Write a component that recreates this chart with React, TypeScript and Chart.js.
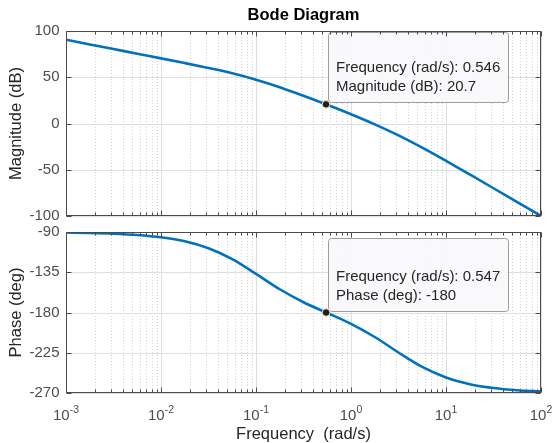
import React, { useEffect, useRef } from 'react';
import { Chart, registerables } from 'chart.js';

Chart.register(...registerables);

// ---------------- data ----------------
const frequencies = [
  0.001, 0.001778, 0.003162, 0.005623, 0.01, 0.01778, 0.03162, 0.05623, 0.1, 0.1778, 0.3162,
  0.5623, 1, 1.778, 3.162, 5.623, 10, 17.78, 31.62, 56.23, 100,
];
const magnitudeDb = [
  90.5, 85.5, 80.5, 75.4, 70.4, 65.3, 60.0, 54.3, 47.4, 39.3, 30.0, 20.2, 10.0, -0.9, -12.8,
  -26.1, -40.4, -55.1, -70.0, -85.0, -100.0,
];
const phaseDeg = [
  -90.6, -91.1, -91.9, -93.3, -95.9, -100.4, -108.2, -120.4, -136.9, -154.0, -168.5, -180.5,
  -192.7, -207.4, -224.7, -240.9, -252.7, -260.1, -264.4, -266.9, -268.2,
];
const magnitudeTicks = [-100, -50, 0, 50, 100];
const phaseTicks = [-270, -225, -180, -135, -90];
const decadeExponents = [-3, -2, -1, 0, 1, 2];
const minorMultipliers = [2, 3, 4, 5, 6, 7, 8, 9];
const magnitudeTip = [0.546, 20.7];
const phaseTip = [0.547, -180];

// ---------------- styling ----------------
const FONT = '"Liberation Sans", Arial, Helvetica, sans-serif';
const LINE_BLUE = '#0072BD';
const TEXT_DARK = '#262626';
const TICK_GREY = '#4d4d4d';
const FRAME = '#4a4a4a';
const W = 553;
const TOP_H = 224;
const BOT_H = 219;
const PLOT_LEFT = 66;
const PLOT_RIGHT_PAD = 12;

function zeroPadding(s: any) {
  s.paddingTop = 0;
  s.paddingBottom = 0;
  s.paddingLeft = 0;
  s.paddingRight = 0;
}

function drawGridAndTip(chart: any, yTicks: number[], tip: number[], tipLabel: string, tipH: number) {
  const { ctx, chartArea: a, scales } = chart;
  const x = scales.x;
  const y = scales.y;
  ctx.save();
  ctx.lineWidth = 1;
  // minor vertical dotted grid
  ctx.strokeStyle = '#d2d2d2';
  ctx.setLineDash([1, 2]);
  for (const e of decadeExponents.slice(0, -1)) {
    for (const m of minorMultipliers) {
      const px = Math.round(x.getPixelForValue(m * Math.pow(10, e))) + 0.5;
      ctx.beginPath();
      ctx.moveTo(px, a.top);
      ctx.lineTo(px, a.bottom);
      ctx.stroke();
    }
  }
  ctx.setLineDash([]);
  ctx.strokeStyle = '#dfdfdf';
  for (const e of decadeExponents) {
    const px = Math.round(x.getPixelForValue(Math.pow(10, e))) + 0.5;
    ctx.beginPath();
    ctx.moveTo(px, a.top);
    ctx.lineTo(px, a.bottom);
    ctx.stroke();
  }
  for (const v of yTicks) {
    const py = Math.round(y.getPixelForValue(v)) + 0.5;
    ctx.beginPath();
    ctx.moveTo(a.left, py);
    ctx.lineTo(a.right, py);
    ctx.stroke();
  }

  // data tip box
  const px = x.getPixelForValue(tip[0]);
  const py = y.getPixelForValue(tip[1]);
  const left = Math.round(px + 2) + 0.5;
  const bottom = Math.round(py - 2) + 0.5;
  const w = 180;
  ctx.beginPath();
  if (ctx.roundRect) ctx.roundRect(left, bottom - tipH, w, tipH, 3);
  else ctx.rect(left, bottom - tipH, w, tipH);
  ctx.fillStyle = 'rgba(249,249,252,0.95)';
  ctx.fill();
  ctx.strokeStyle = '#9c9c9c';
  ctx.stroke();
  ctx.fillStyle = TEXT_DARK;
  ctx.font = `15px ${FONT}`;
  ctx.textAlign = 'left';
  ctx.textBaseline = 'middle';
  ctx.fillText(`Frequency (rad/s): ${tip[0]}`, left + 7.5, bottom - 34.5);
  ctx.fillText(`${tipLabel}: ${tip[1]}`, left + 7.5, bottom - 15.5);
  ctx.restore();
}

function drawFrame(chart: any, yTicks: number[]) {
  const { ctx, chartArea: a, scales } = chart;
  const x = scales.x;
  const y = scales.y;
  ctx.save();
  ctx.strokeStyle = FRAME;
  ctx.lineWidth = 1;
  const L = a.left + 0.5;
  const R = a.right - 0.5;
  const T = a.top + 0.5;
  const B = a.bottom - 0.5;
  ctx.strokeRect(L, T, R - L, B - T);
  ctx.beginPath();
  for (const e of decadeExponents) {
    const px = Math.round(x.getPixelForValue(Math.pow(10, e))) + 0.5;
    ctx.moveTo(px, T); ctx.lineTo(px, T + 5);
    ctx.moveTo(px, B); ctx.lineTo(px, B - 5);
    if (e === decadeExponents[decadeExponents.length - 1]) continue;
    for (const m of minorMultipliers) {
      const qx = Math.round(x.getPixelForValue(m * Math.pow(10, e))) + 0.5;
      ctx.moveTo(qx, T); ctx.lineTo(qx, T + 3);
      ctx.moveTo(qx, B); ctx.lineTo(qx, B - 3);
    }
  }
  for (const v of yTicks) {
    const py = Math.round(y.getPixelForValue(v)) + 0.5;
    ctx.moveTo(L, py); ctx.lineTo(L + 5, py);
    ctx.moveTo(R, py); ctx.lineTo(R - 5, py);
  }
  ctx.stroke();
  ctx.restore();
}

function buildConfig(isTop: boolean): any {
  const values = isTop ? magnitudeDb : phaseDeg;
  const yTicks = isTop ? magnitudeTicks : phaseTicks;
  const tip = isTop ? magnitudeTip : phaseTip;
  const yLabel = isTop ? 'Magnitude (dB)' : 'Phase (deg)';
  const tipLabel = isTop ? 'Magnitude (dB)' : 'Phase (deg)';
  const tipH = isTop ? 70 : 73;

  const plugin = {
    id: isTop ? 'bodeTop' : 'bodeBottom',
    beforeDatasetsDraw(chart: any) {
      drawGridAndTip(chart, yTicks, tip, tipLabel, tipH);
    },
    afterDatasetsDraw(chart: any) {
      drawFrame(chart, yTicks);
    },
    afterDraw(chart: any) {
      const { ctx, chartArea: a, scales } = chart;
      ctx.save();
      if (isTop) {
        ctx.fillStyle = '#000000';
        ctx.font = `bold 16.5px ${FONT}`;
        ctx.textAlign = 'center';
        ctx.textBaseline = 'alphabetic';
        ctx.fillText('Bode Diagram', (a.left + a.right) / 2, 20);
      } else {
        const x = scales.x;
        ctx.fillStyle = TICK_GREY;
        ctx.textBaseline = 'alphabetic';
        ctx.textAlign = 'left';
        for (const e of decadeExponents) {
          const px = x.getPixelForValue(Math.pow(10, e));
          ctx.font = `15px ${FONT}`;
          const wb = ctx.measureText('10').width;
          ctx.font = `10.5px ${FONT}`;
          const exp = String(e);
          const we = ctx.measureText(exp).width;
          const start = px - (wb + we) / 2;
          ctx.font = `15px ${FONT}`;
          ctx.fillText('10', start, a.bottom + 27);
          ctx.font = `10.5px ${FONT}`;
          ctx.fillText(exp, start + wb, a.bottom + 20);
        }
      }
      ctx.restore();
    },
  };

  return {
    type: 'line',
    data: {
      datasets: [
        {
          data: [{ x: tip[0], y: tip[1] }],
          showLine: false,
          pointRadius: 3.8,
          pointBackgroundColor: '#1e1e1e',
          pointBorderColor: '#f3f0b4',
          pointBorderWidth: 1,
        },
        {
          data: frequencies.map((f, i) => ({ x: f, y: values[i] })),
          borderColor: LINE_BLUE,
          borderWidth: 2.6,
          pointRadius: 0,
          cubicInterpolationMode: 'monotone',
          fill: false,
        },
      ],
    },
    options: {
      animation: false,
      responsive: false,
      events: [],
      layout: {
        padding: { top: isTop ? 31 : 8, right: PLOT_RIGHT_PAD, left: 0, bottom: 0 },
      },
      plugins: {
        legend: { display: false },
        tooltip: { enabled: false },
        title: { display: false },
      },
      scales: {
        x: {
          type: 'logarithmic',
          min: 0.001,
          max: 100,
          ticks: { display: false },
          grid: { display: false, drawTicks: false },
          border: { display: false },
          title: isTop
            ? { display: false }
            : {
                display: true,
                text: 'Frequency  (rad/s)',
                color: TEXT_DARK,
                font: { family: FONT, size: 16.5, lineHeight: 1 },
                padding: { top: 0, bottom: 0 },
              },
          afterFit: (s: any) => {
            s.height = isTop ? 8 : 50;
            zeroPadding(s);
          },
        },
        y: {
          min: isTop ? -100 : -270,
          max: isTop ? 100 : -90,
          afterBuildTicks: (s: any) => {
            s.ticks = yTicks.map((v) => ({ value: v }));
          },
          ticks: {
            color: TICK_GREY,
            font: { family: FONT, size: 15 },
            padding: 6.5,
            callback: (v: any) => String(v),
          },
          grid: { display: false, drawTicks: false },
          border: { display: false },
          title: {
            display: true,
            text: yLabel,
            color: TEXT_DARK,
            font: { family: FONT, size: 16.5, lineHeight: 1 },
            padding: { top: 8.5, bottom: 0 },
          },
          afterFit: (s: any) => {
            s.width = PLOT_LEFT;
            zeroPadding(s);
          },
        },
      },
    },
    plugins: [plugin],
  };
}

export default function App() {
  const topRef = useRef<HTMLCanvasElement | null>(null);
  const botRef = useRef<HTMLCanvasElement | null>(null);

  useEffect(() => {
    const charts: Chart[] = [];
    if (topRef.current) charts.push(new Chart(topRef.current, buildConfig(true)));
    if (botRef.current) charts.push(new Chart(botRef.current, buildConfig(false)));
    return () => charts.forEach((c) => c.destroy());
  }, []);

  return (
    <div style={{ position: 'absolute', left: 0, top: 0, width: W, height: TOP_H + BOT_H, background: '#ffffff' }}>
      <canvas ref={topRef} width={W} height={TOP_H} style={{ position: 'absolute', left: 0, top: 0, width: W, height: TOP_H }} />
      <canvas ref={botRef} width={W} height={BOT_H} style={{ position: 'absolute', left: 0, top: TOP_H, width: W, height: BOT_H }} />
    </div>
  );
}
